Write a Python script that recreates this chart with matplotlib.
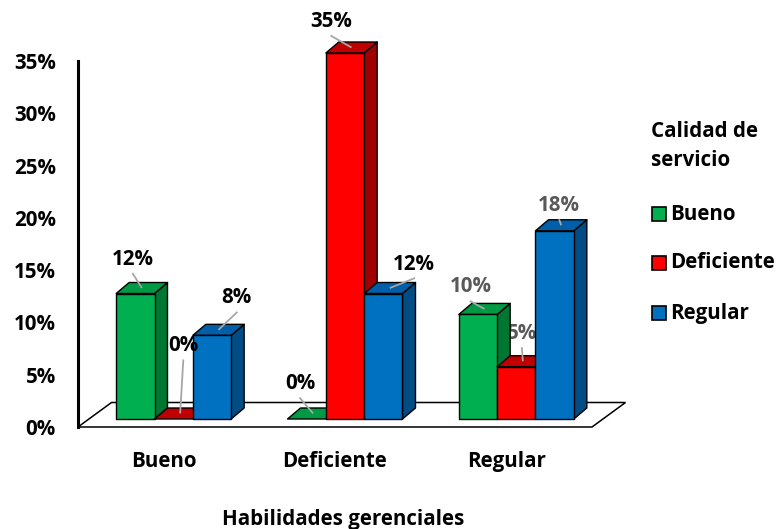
import matplotlib
matplotlib.use("Agg")
import matplotlib.pyplot as plt
from matplotlib.patches import Polygon, Rectangle

# ---- data -------------------------------------------------------------
categories = ["Bueno", "Deficiente", "Regular"]          # Habilidades gerenciales
series_names = ["Bueno", "Deficiente", "Regular"]        # Calidad de servicio
bueno = [0.12, 0.00, 0.10]
deficiente = [0.00, 0.35, 0.05]
regular = [0.08, 0.12, 0.18]
y_ticks = [0.00, 0.05, 0.10, 0.15, 0.20, 0.25, 0.30, 0.35]
y_tick_labels = ["0%", "5%", "10%", "15%", "20%", "25%", "30%", "35%"]

# ---- styling ----------------------------------------------------------
FONT = "Open Sans"
FS = 14.8
plt.rcParams["font.family"] = [FONT, "DejaVu Sans"]
W, H = 779, 529
fig = plt.figure(figsize=(W / 100, H / 100), dpi=100)
fig.patch.set_facecolor("white")

face = {"front": ["#00B050", "#FF0000", "#0070C0"],
        "top": ["#009A44", "#C00000", "#005FA8"],
        "side": ["#007633", "#A00000", "#004C85"]}

# axes: x in category units, y in value units
ax = fig.add_axes([78 / W, (H - 427) / H, 514 / W, 366 / H])
ax.set_xlim(0, 3)
ax.set_ylim(0, 0.35)
PXX = 514 / 3          # pixels per category unit
PXY = 366 / 0.35       # pixels per value unit

def px(dx, dy):
    """pixel offset -> data offset (dy positive = up)"""
    return dx / PXX, dy / PXY

for s in ["top", "right", "bottom"]:
    ax.spines[s].set_visible(False)
ax.spines["left"].set_linewidth(2.2)
ax.spines["left"].set_color("black")
ax.set_yticks(y_ticks)
ax.set_yticklabels(y_tick_labels, fontsize=FS, fontweight="bold")
ax.tick_params(axis="y", length=0, pad=16)
ax.set_xticks([c + 0.5 for c in range(len(categories))])
ax.set_xticklabels(categories, fontsize=FS, fontweight="bold")
ax.tick_params(axis="x", length=0, pad=17)
ax.patch.set_visible(False)

# floor
fdx, fdy = px(33.5, 24.5)
floor = Polygon([(0, 0), (3, 0), (3 + fdx, fdy), (fdx, fdy)], closed=True,
                facecolor="white", edgecolor="black", lw=1.1, zorder=1,
                clip_on=False)
ax.add_patch(floor)

# bars
odx, ody = px(10, 8)        # front face offset from floor front edge
bw = px(38.33, 0)[0]        # bar width
ddx, ddy = px(13, 11)       # bar depth
margin = (1 - 3 * bw) / 2

values = [bueno, deficiente, regular]
top_centers = []
z = 2
for c in range(len(categories)):
    for s in range(len(series_names)):
        v = values[s][c]
        xl = c + margin + odx + s * bw
        b = ody
        t = b + v
        kw = dict(closed=True, edgecolor="black", lw=1.0, clip_on=False,
                  joinstyle="round")
        ax.add_patch(Polygon([(xl + bw, b), (xl + bw + ddx, b + ddy),
                              (xl + bw + ddx, t + ddy), (xl + bw, t)],
                             facecolor=face["side"][s], zorder=z, **kw))
        ax.add_patch(Polygon([(xl, t), (xl + bw, t), (xl + bw + ddx, t + ddy),
                              (xl + ddx, t + ddy)],
                             facecolor=face["top"][s], zorder=z, **kw))
        if v > 0:
            ax.add_patch(Polygon([(xl, b), (xl + bw, b), (xl + bw, t), (xl, t)],
                                 facecolor=face["front"][s], zorder=z, **kw))
        top_centers.append((xl + bw / 2 + ddx / 2, t + ddy / 2, v, s, c))
        z += 1

# data labels with leader lines (offsets in pixels from the top-face centre)
label_offsets = [(-9, 29), (3, 68), (18, 32),
                 (-13, 30), (-20, 26), (24, 24),
                 (-14, 22), (-1, 28), (-2, 20)]
label_colors = ["black"] * 6 + ["#595959"] * 3
label_under = [False] * 7 + [True] + [False]
for i, (x0, y0, v, s, c) in enumerate(top_centers):
    ox, oy = label_offsets[c * 3 + s]
    lx, ly = x0 + px(ox, 0)[0], y0 + px(0, oy)[1]
    sx, sy = lx + px(ox * 0.05, 0)[0], ly - px(0, 14)[1]
    ax.plot([sx, x0], [sy, y0], color="#A6A6A6", lw=1.3, zorder=40,
            clip_on=False, solid_capstyle="butt")
    ax.text(lx, ly, f"{v * 100:.0f}%", ha="center", va="center",
            fontsize=FS, fontweight="bold", color=label_colors[c * 3 + s],
            zorder=1.5 if label_under[c * 3 + s] else 50, clip_on=False)

# axis title
fig.text(343 / W, 1 - 519 / H, "Habilidades gerenciales", ha="center",
         va="center", fontsize=FS, fontweight="bold")

# legend
fig.text(651 / W, 1 - 132 / H, "Calidad de", ha="left", va="center",
         fontsize=FS, fontweight="bold")
fig.text(651 / W, 1 - 160 / H, "servicio", ha="left", va="center",
         fontsize=FS, fontweight="bold")
for s, (name, yy) in enumerate(zip(series_names, [214, 263, 313])):
    fig.patches.append(Rectangle((652 / W, 1 - (yy + 7) / H), 14 / W, 14 / H,
                                 transform=fig.transFigure,
                                 facecolor=face["front"][s],
                                 edgecolor="black", lw=1.2))
    fig.text(670 / W, 1 - yy / H, name, ha="left", va="center",
             fontsize=FS, fontweight="bold")

fig.savefig("out.png", dpi=100)
